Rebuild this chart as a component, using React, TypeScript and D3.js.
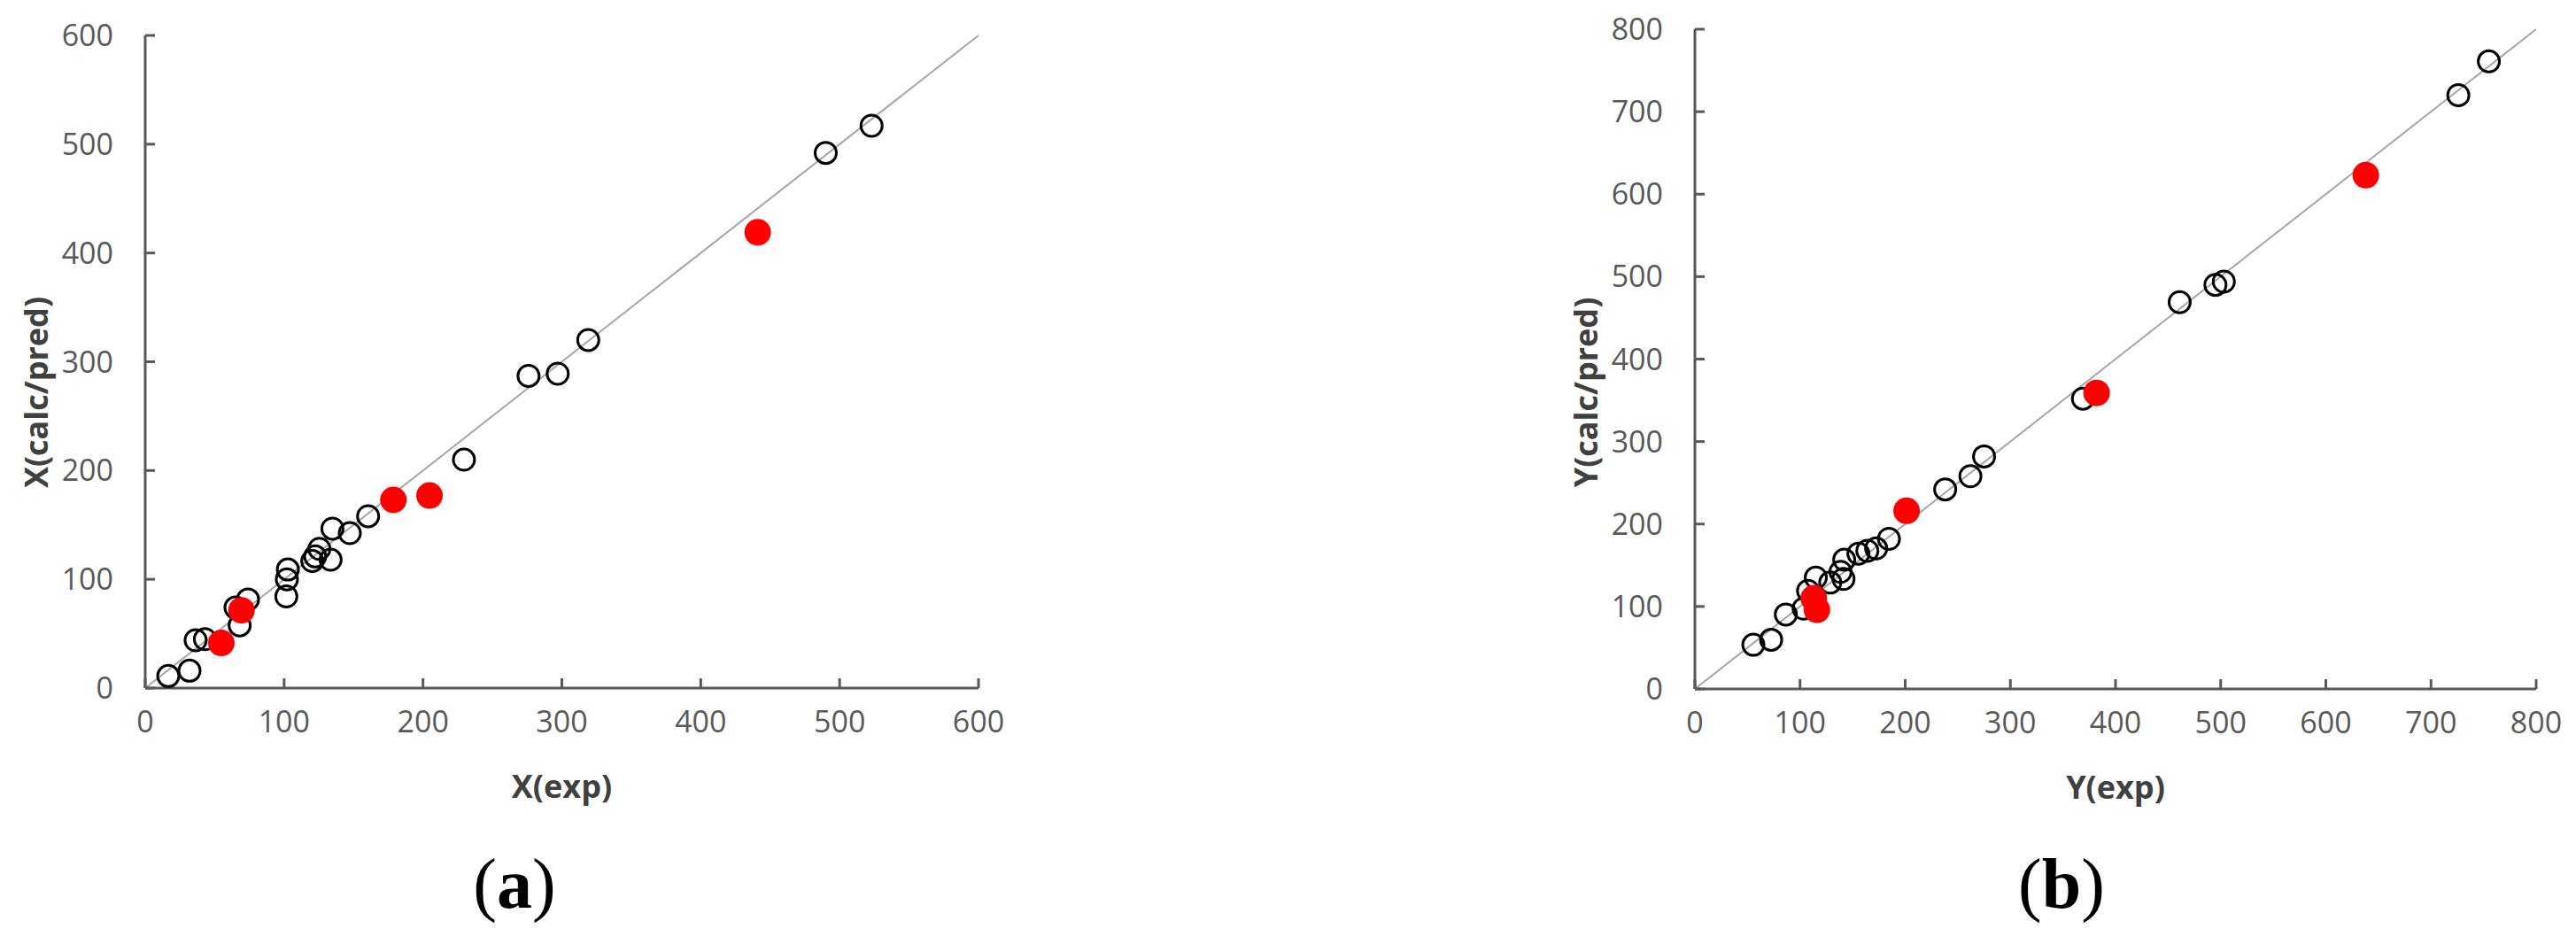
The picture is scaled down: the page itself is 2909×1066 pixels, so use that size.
import React from 'react';
import * as d3 from 'd3';

// panel (a)
const xExpOpen = [16.6, 31.9, 36.3, 43, 65, 68, 74, 101.6, 102, 102.7, 120.3, 122.4, 125.4, 133.5, 134.8, 147.3, 160.5, 229.5, 276, 297, 319, 490, 523];
const xCalcOpen = [11.1, 16, 44, 45, 74, 57.7, 81.5, 84.3, 100, 109, 116.8, 121, 128, 118, 146.6, 142.5, 158, 210, 287, 289, 320, 492, 517];
const xExpRed = [54.8, 69.3, 178.7, 204.7, 441];
const xCalcRed = [41.5, 71.5, 173, 177, 419];
const xTicks = [0, 100, 200, 300, 400, 500, 600];

// panel (b)
const yExpOpen = [55.6, 72.5, 86.5, 103.4, 107.6, 115, 128.7, 138.5, 141.3, 142, 155.5, 164, 172.4, 184.5, 238, 262, 275, 369, 461, 495, 503, 726, 755];
const yCalcOpen = [53.6, 59.7, 90.3, 97.4, 119, 135, 129, 142, 133.4, 156.7, 164, 167.5, 170.4, 182, 242, 258, 282, 352, 469, 490, 494, 720, 761];
const yExpRed = [113, 116, 201.3, 382, 638];
const yCalcRed = [110, 96, 216, 359, 623];
const yTicks = [0, 100, 200, 300, 400, 500, 600, 700, 800];

const axisColor = '#595959';
const tickFont = '"Open Sans", sans-serif';

type PanelProps = {
  x0: number; x1: number; y0: number; y1: number;
  ticks: number[];
  expOpen: number[]; calcOpen: number[];
  expRed: number[]; calcRed: number[];
  xTitle: string; yTitle: string;
  label: string; labelX: number;
};

function Panel(p: PanelProps) {
  const max = p.ticks[p.ticks.length - 1];
  const x = d3.scaleLinear().domain([0, max]).range([p.x0, p.x1]);
  const y = d3.scaleLinear().domain([0, max]).range([p.y0, p.y1]);
  const tick = 11;
  const midX = (p.x0 + p.x1) / 2;
  return (
    <g>
      <line x1={x(0)} y1={y(0)} x2={x(max)} y2={y(max)} stroke="#a6a6a6" strokeWidth={2} />
      <line x1={p.x0} y1={p.y0} x2={p.x1} y2={p.y0} stroke={axisColor} strokeWidth={3} />
      <line x1={p.x0} y1={p.y0} x2={p.x0} y2={p.y1} stroke={axisColor} strokeWidth={3} />
      {p.ticks.map(t => (
        <g key={'t' + t}>
          <line x1={x(t)} x2={x(t)} y1={p.y0} y2={p.y0 - tick} stroke={axisColor} strokeWidth={3} />
          <line x1={p.x0} x2={p.x0 + tick} y1={y(t)} y2={y(t)} stroke={axisColor} strokeWidth={3} />
          <text x={x(t)} y={p.y0 + 50} textAnchor="middle" fontFamily={tickFont} fontSize={34} fill="#595959">{t}</text>
          <text x={p.x0 - 36} y={y(t) + 12} textAnchor="end" fontFamily={tickFont} fontSize={34} fill="#595959">{t}</text>
        </g>
      ))}
      {p.expOpen.map((v, i) => (
        <circle key={'o' + i} cx={x(v)} cy={y(p.calcOpen[i])} r={12} fill="none" stroke="#000" strokeWidth={3} />
      ))}
      {p.expRed.map((v, i) => (
        <circle key={'r' + i} cx={x(v)} cy={y(p.calcRed[i])} r={15} fill="#ff0000" />
      ))}
      <text x={midX} y={p.y0 + 124} textAnchor="middle" fontFamily={tickFont} fontWeight="bold" fontSize={36} fill="#404040">{p.xTitle}</text>
      <text transform={`translate(${p.x0 - 110},443) rotate(-90)`} textAnchor="middle" fontFamily={tickFont} fontWeight="bold" fontSize={36} fill="#404040">{p.yTitle}</text>
      <text x={p.labelX} y={1025} textAnchor="middle" fontFamily='"Liberation Serif", serif' fontSize={80} fill="#000">
        (<tspan fontWeight="bold">{p.label}</tspan>)
      </text>
    </g>
  );
}

export default function App() {
  return (
    <svg width={2909} height={1066} style={{ position: 'absolute', left: 0, top: 0, background: '#fff' }}>
      <rect width={2909} height={1066} fill="#fff" />
      <Panel x0={164} x1={1105} y0={777} y1={40} ticks={xTicks}
        expOpen={xExpOpen} calcOpen={xCalcOpen} expRed={xExpRed} calcRed={xCalcRed}
        xTitle="X(exp)" yTitle="X(calc/pred)" label="a" labelX={581} />
      <Panel x0={1914} x1={2864} y0={778} y1={33} ticks={yTicks}
        expOpen={yExpOpen} calcOpen={yCalcOpen} expRed={yExpRed} calcRed={yCalcRed}
        xTitle="Y(exp)" yTitle="Y(calc/pred)" label="b" labelX={2328} />
    </svg>
  );
}
